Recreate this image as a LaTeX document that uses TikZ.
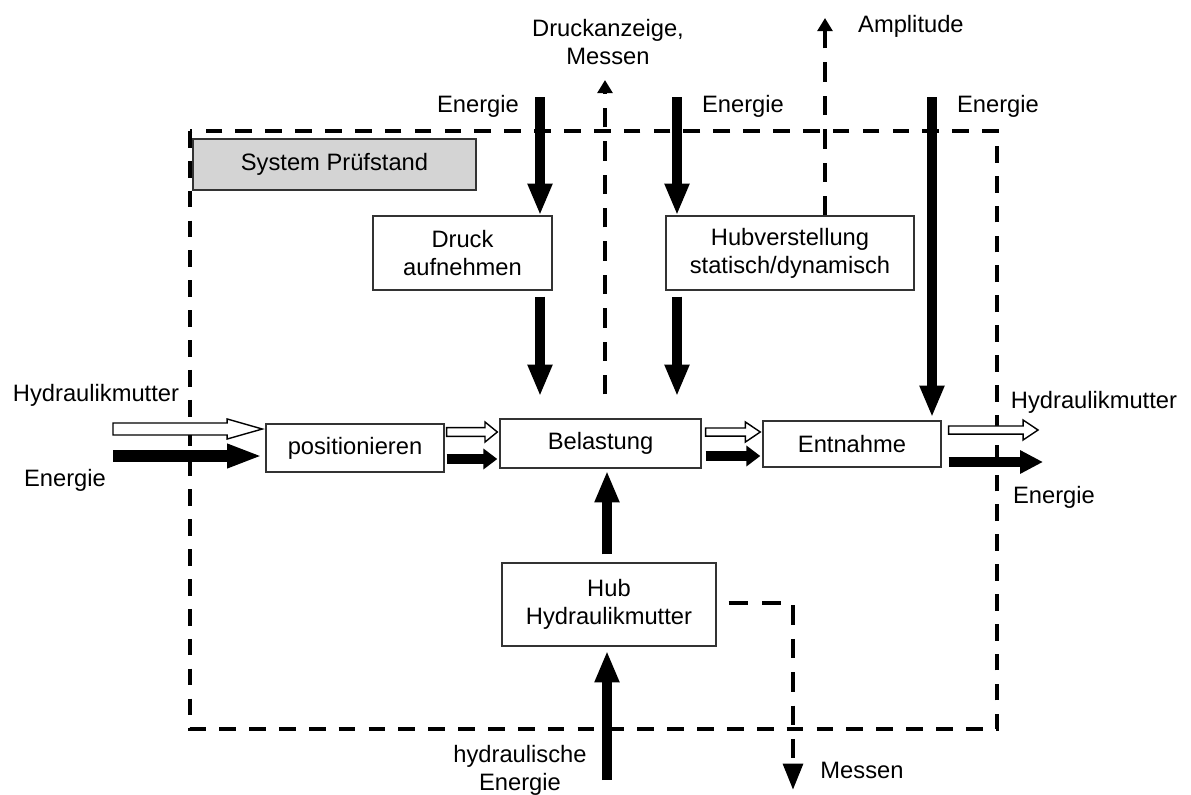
\documentclass[tikz,border=0pt]{standalone}
\usepackage{fontspec}
\setmainfont{Liberation Sans}
\usetikzlibrary{arrows.meta,calc}

% hollow block arrow: start, end, half body, half head, head length
\newcommand{\hollowarrow}[5]{%
  \draw[line width=0.8pt, fill=white] let \p1=#1, \p2=#2 in
    (\x1,\y1+#3) -- (\x2-#5,\y1+#3) -- (\x2-#5,\y1+#4) -- (\x2,\y1)
    -- (\x2-#5,\y1-#4) -- (\x2-#5,\y1-#3) -- (\x1,\y1-#3) -- cycle;}

\begin{document}
\begin{tikzpicture}[x=0.02cm, y=-0.02cm,
    box/.style={draw=black!80, line width=0.8pt, fill=white, align=center,
      inner sep=2pt, font=\fontsize{13.5}{16}\selectfont},
    label/.style={align=center, font=\fontsize{13.5}{16}\selectfont},
    energy/.style={line width=6pt, -{Triangle[width=13pt, length=18pt]}},
    flowbig/.style={line width=6.6pt, -{Triangle[width=12.5pt, length=20pt]}},
    flowsmall/.style={line width=5.7pt, -{Triangle[width=11.5pt, length=8pt]}},
    signal/.style={line width=2.8pt, dash pattern=on 11pt off 8pt, -{Triangle[width=8.5pt, length=7.5pt]}},
    boundary/.style={line width=2.8pt, dash pattern=on 9.5pt off 7.5pt}]
    \useasboundingbox (0,0) rectangle (1191,795);

    % === SYSTEM BOUNDARY ===
    \draw[boundary] (190,131) rectangle (997,729);
    \node[box, fill=black!17, minimum width=5.66cm, minimum height=1.02cm] (sys) at (334.5,164.5) {System Prüfstand};

    % === FUNCTION BOXES ===
    \node[box, minimum width=3.58cm, minimum height=1.48cm] (druck) at (462.5,253) {Druck\\aufnehmen};
    \node[box, minimum width=4.96cm, minimum height=1.48cm] (hubv) at (790,253) {Hubverstellung\\statisch/dynamisch};
    \node[box, minimum width=3.56cm, minimum height=0.96cm] (pos) at (355,448) {positionieren};
    \node[box, minimum width=4.02cm, minimum height=0.98cm] (bel) at (600.5,443.5) {Belastung};
    \node[box, minimum width=3.56cm, minimum height=0.92cm] (ent) at (852,444) {Entnahme};
    \node[box, minimum width=4.28cm, minimum height=1.66cm] (hub) at (609,604.5) {Hub\\Hydraulikmutter};

    % === TOP INPUTS / OUTPUTS ===
    \coordinate (e1) at (540,97);
    \coordinate (e2) at (677,97);
    \coordinate (e3) at (932,97);
    \coordinate (dm) at (605,80);
    \coordinate (amp) at (825,18);
    \draw[energy] (e1) -- (e1 |- druck.north);
    \draw[energy] ($(e1 |- druck.south)+(0,6)$) -- ($(e1 |- bel.north)+(0,-22)$);
    \draw[energy] (e2) -- (e2 |- hubv.north);
    \draw[energy] ($(e2 |- hubv.south)+(0,6)$) -- ($(e2 |- bel.north)+(0,-22)$);
    \draw[energy] (e3) -- ($(e3 |- ent.north)+(0,-3)$);
    \draw[signal] ($(dm |- bel.north)+(0,-24)$) -- (dm);
    \draw[signal] (amp |- hubv.north) -- (amp);
    \node[label] (le1) at (478,106) {Energie};
    \node[label] (le2) at (743,106) {Energie};
    \node[label] (le3) at (998,106) {Energie};
    \node[label] (ldm) at (608,42) {Druckanzeige,\\Messen};
    \node[label, anchor=west] (lamp) at (852,26) {Amplitude};

    % === MAIN FLOW (LEFT TO RIGHT) ===
    \coordinate (hin) at (113,429);
    \coordinate (ein) at (113,456);
    \hollowarrow{(hin)}{($(hin -| pos.west)+(-3,0)$)}{3.4pt}{5.7pt}{20pt}
    \draw[flowbig] (ein) -- ($(ein -| pos.west)+(-3,0)$);
    \node[label] (lhin) at (96,395) {Hydraulikmutter};
    \node[label] (lein) at (65,480) {Energie};

    \coordinate (pw) at ($(pos.east)+(2,-16)$);
    \coordinate (pb) at ($(pos.east)+(2,11)$);
    \hollowarrow{(pw)}{($(pw -| bel.west)+(-2,0)$)}{2.5pt}{5.7pt}{7pt}
    \draw[flowsmall] (pb) -- ($(pb -| bel.west)+(-2,0)$);

    \coordinate (bw) at ($(bel.east)+(4,-11.5)$);
    \coordinate (bb) at ($(bel.east)+(4,12.5)$);
    \hollowarrow{(bw)}{($(bw -| ent.west)+(-2,0)$)}{2.3pt}{5.7pt}{8.5pt}
    \draw[flowsmall] (bb) -- ($(bb -| ent.west)+(-2,0)$);

    \coordinate (ow) at (1038,430);
    \coordinate (ob) at (1043,462);
    \hollowarrow{($(ow -| ent.east)+(7,0)$)}{(ow)}{2.3pt}{5.7pt}{8.5pt}
    \draw[line width=5.7pt, -{Triangle[width=12.5pt, length=13pt]}] ($(ob -| ent.east)+(7,0)$) -- (ob);
    \node[label] (low) at (1094,402) {Hydraulikmutter};
    \node[label] (lob) at (1054,497) {Energie};

    % === BOTTOM: HUB ===
    \coordinate (hu) at (607,780);
    \coordinate (ms) at (793,790);
    \draw[energy] ($(hu |- hub.north)+(0,-8)$) -- ($(hu |- bel.south)+(0,2)$);
    \draw[energy] (hu) -- ($(hu |- hub.south)+(0,4)$);
    \draw[line width=2.8pt, dash pattern=on 11pt off 8pt, -{Triangle[width=11pt, length=15pt]}]
        ($(hub.east)+(12,-1.5)$) -| (ms);
    \node[label] (lhu) at (520,770) {hydraulische\\Energie};
    \node[label] (lms) at (862,770) {Messen};
\end{tikzpicture}
\end{document}
